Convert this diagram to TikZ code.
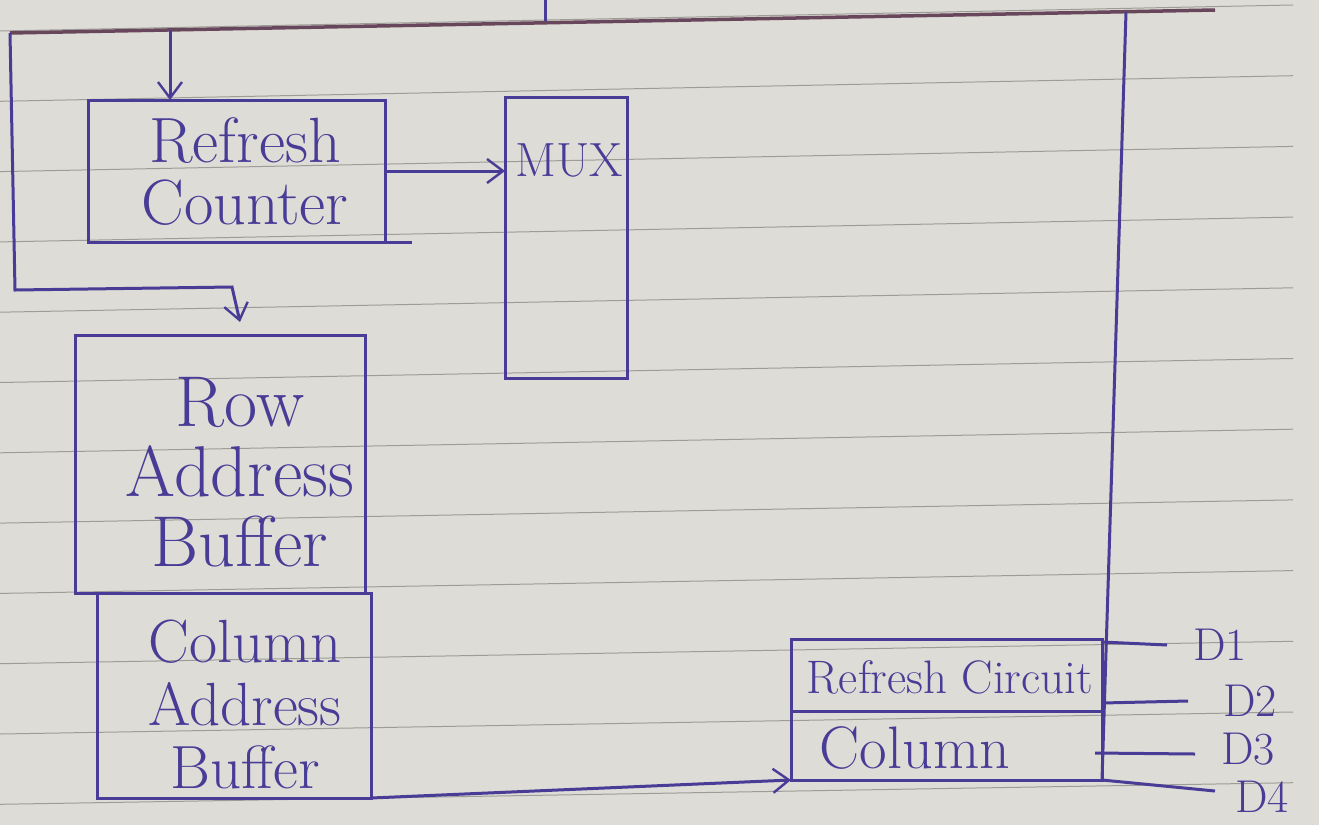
\documentclass[tikz,border=0pt]{standalone}
\usepackage{fontspec}
\usetikzlibrary{arrows.meta}
\definecolor{paper}{RGB}{222,220,214}
\definecolor{ink}{RGB}{72,60,150}
\definecolor{topink}{RGB}{104,70,92}
\definecolor{ruled}{RGB}{158,156,150}
\begin{document}
\begin{tikzpicture}[x=1pt,y=-1pt,
  box/.style={draw=ink, line width=3pt, inner sep=0pt, outer sep=0pt, text=ink, align=center},
  wire/.style={draw=ink, line width=3pt},
  arr/.style={wire, -{Straight Barb[length=16pt,width=24pt,line width=2.4pt]}},
  lbl/.style={text=ink, inner sep=0pt, align=center},
  dlbl/.style={lbl, font=\fontsize{46}{48}\selectfont}]
\fill[paper] (0,0) rectangle (1319,825);
\useasboundingbox (0,0) rectangle (1319,825);
% ruled paper
\foreach \k in {0,...,11}
  \draw[ruled, line width=1pt] (0,{31+70.3*\k}) -- (1293,{5+70.7*\k});

% boxes
\node[box, minimum width=297pt, minimum height=142pt] (rc) at (236.5,171) {};
\node[lbl, font=\fontsize{64}{62}\selectfont] (rct) at (245,172) {Refresh\\Counter};
\node[box, minimum width=122pt, minimum height=281pt] (mux) at (566,237.5) {};
\node[lbl, font=\fontsize{48}{50}\selectfont] (muxt) at (569,160) {MUX};
\node[box, minimum width=290pt, minimum height=258pt] (rab) at (220,464) {};
\node[lbl, font=\fontsize{72}{70}\selectfont] (rabt) at (240,472) {Row\\Address\\Buffer};
\node[box, minimum width=274pt, minimum height=205pt] (cab) at (234,695.5) {};
\node[lbl, font=\fontsize{61}{63}\selectfont] (cabt) at (245,704) {Column\\Address\\Buffer};
\node[box, minimum width=311pt, minimum height=72pt] (rci) at (946.5,675) {};
\node[lbl, font=\fontsize{47}{50}\selectfont] (rcit) at (950,677) {Refresh Circuit};
\node[box, minimum width=311pt, minimum height=69pt] (col) at (946.5,745.5) {};
\node[lbl, font=\fontsize{60}{60}\selectfont] (colt) at (915,748) {Column};

% top bus
\coordinate (tl) at (10,33);
\coordinate (tr) at (1215,10);
\coordinate (tin) at (545,0);
\coordinate (tinb) at (545,21);
\coordinate (tdrop) at (170,30);
\coordinate (rv) at (1126,12);
\draw[topink, line width=3.5pt] (tl) -- (tr);
\draw[wire] (tin) -- (tinb);
\draw[arr] (tdrop) -- (tdrop |- rc.north);
\draw[wire] (rv) -- (col.south east);

% left loop to row address buffer
\coordinate (lb) at (15,290);
\coordinate (lr) at (232,287);
\coordinate (le) at (240,322);
\draw[arr] (tl) -- (lb) -- (lr) -- (le);

% refresh counter to mux
\draw[arr] (rc.east) -- (mux.west |- rc.east);
\draw[wire] (rc.south east) -- ++(27,0);

% column address buffer to column
\draw[arr] (cab.south east) -- (col.south west);

% data lines
\node[dlbl] (d1) at (1220,645) {D1};
\node[dlbl] (d2) at (1250,701) {D2};
\node[dlbl] (d3) at (1248,749) {D3};
\node[dlbl] (d4) at (1262,797) {D4};
\coordinate (e1) at (1167,645);
\coordinate (e2) at (1188,701);
\coordinate (e3) at (1195,754);
\coordinate (e4) at (1215,791);
\draw[wire] (1102,642) -- (e1);
\draw[wire] (1102,703) -- (e2);
\draw[wire] (1095,753) -- (e3);
\draw[wire] (col.south east) -- (e4);
\end{tikzpicture}
\end{document}
